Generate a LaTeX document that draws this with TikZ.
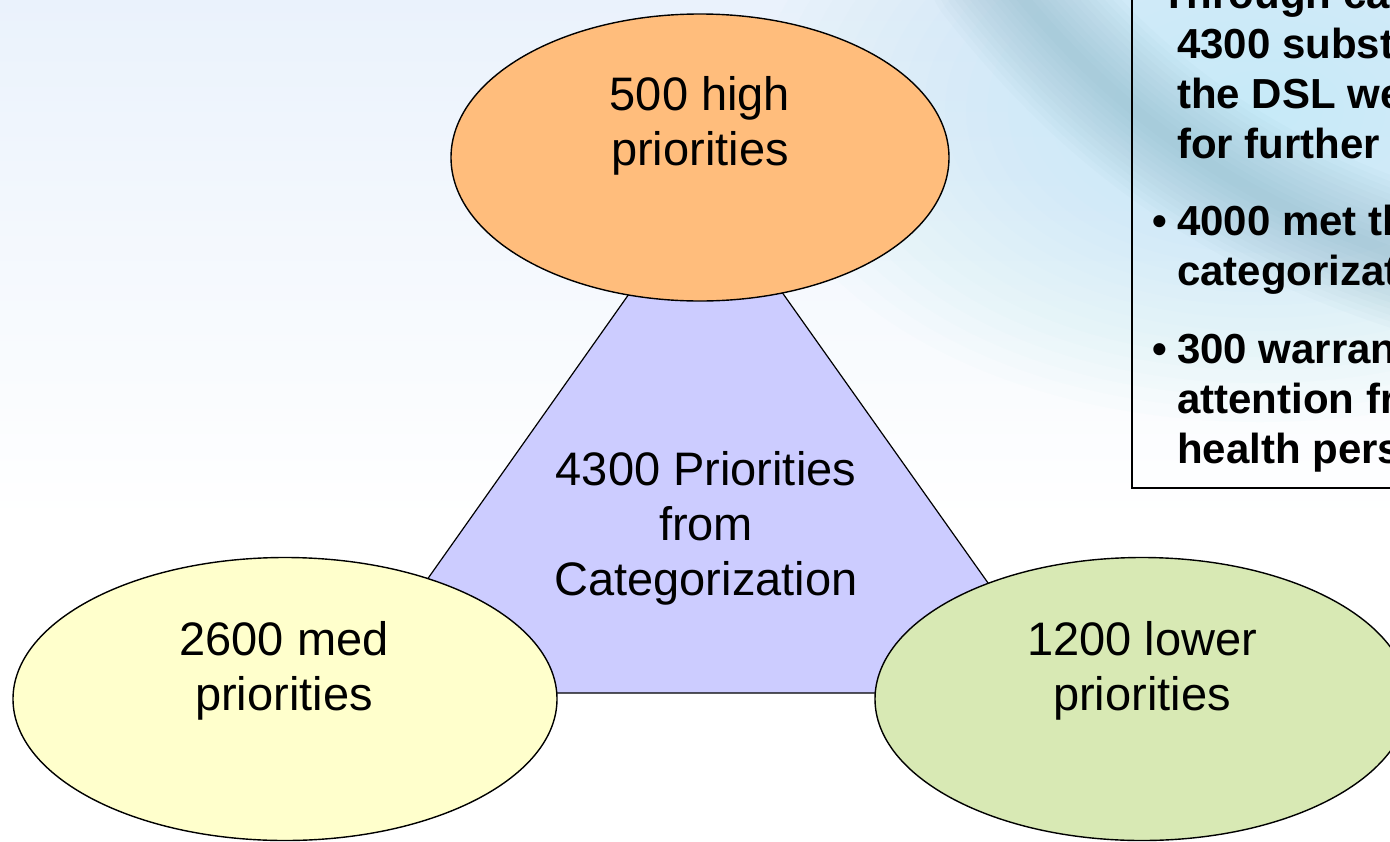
\documentclass[tikz,border=0pt]{standalone}
\usepackage{fontspec}
\setmainfont{Liberation Sans}
\usetikzlibrary{shapes.geometric}
\definecolor{hiC}{RGB}{255,189,124}
\definecolor{medC}{RGB}{255,255,204}
\definecolor{lowC}{RGB}{216,233,180}
\definecolor{triC}{RGB}{204,204,255}
\definecolor{skyC}{RGB}{192,234,248}
\definecolor{streakC}{RGB}{120,165,184}
\definecolor{topC}{RGB}{234,242,252}
\begin{document}
\begin{tikzpicture}[x=1pt,y=-1pt,
  ell/.style={ellipse, draw=black, line width=1.4pt, inner sep=0pt},
  txt/.style={font=\fontsize{47}{55}\selectfont, inner sep=0pt, anchor=base},
  boxtxt/.style={font=\fontsize{42}{50}\selectfont\bfseries, inner sep=0pt, anchor=base west}]
\useasboundingbox (0,0) rectangle (1390,841);
\clip (0,0) rectangle (1390,841);
% background
\fill[white] (0,0) rectangle (1390,841);
\shade[top color=topC, bottom color=white] (0,0) rectangle (1390,520);
\foreach \i in {1,...,24}
  \fill[skyC, opacity=0.05] (1260,110) ellipse ({21*\i} and {13*\i});
\foreach \i in {1,...,12}{
  \pgfmathsetmacro{\lw}{12*\i}
  \draw[streakC, line width=\lw pt, opacity=0.04, line cap=round]
    (1000,-30) .. controls (1095,90) and (1215,200) .. (1440,268);
}
% triangle
\coordinate (ta) at (706,185);
\coordinate (tl) at (347,693);
\coordinate (tr) at (1066,693);
\filldraw[fill=triC, draw=black, line width=1.2pt] (ta) -- (tl) -- (tr) -- cycle;
% ellipses
\node[ell, fill=hiC, minimum width=498pt, minimum height=287pt] (hi) at (700,157.5) {};
\node[ell, fill=medC, minimum width=544pt, minimum height=283pt] (med) at (285,699) {};
\node[ell, fill=lowC, minimum width=534pt, minimum height=283pt] (low) at (1142,699) {};
% texts
\node[txt] (hiA) at (700,110) {500 high};
\node[txt] (hiB) at (700,165) {priorities};
\node[txt] (medA) at (284,655) {2600 med};
\node[txt] (medB) at (284,710) {priorities};
\node[txt] (lowA) at (1142,655) {1200 lower};
\node[txt] (lowB) at (1142,710) {priorities};
\node[txt] (triA) at (706,485) {4300 Priorities};
\node[txt] (triB) at (706,540) {from};
\node[txt] (triC) at (706,595) {Categorization};
% text box
\draw[black, line width=2pt] (1400,-20) -- (1132,-20) -- (1132,488) -- (1400,488);
\node[boxtxt] (p1a) at (1161,8) {Through categorization,};
\node[boxtxt] (p1b) at (1177,58) {4300 substances on};
\node[boxtxt] (p1c) at (1177,108) {the DSL were identified};
\node[boxtxt] (p1d) at (1177,158) {for further work:};
\node[boxtxt] (b1) at (1152,235) {\textbullet};
\node[boxtxt] (p2a) at (1177,235) {4000 met the};
\node[boxtxt] (p2b) at (1177,285) {categorization criteria};
\node[boxtxt] (b2) at (1152,363) {\textbullet};
\node[boxtxt] (p3a) at (1177,363) {300 warrant further};
\node[boxtxt] (p3b) at (1177,413) {attention from a human};
\node[boxtxt] (p3c) at (1177,463) {health perspective};
\end{tikzpicture}
\end{document}
